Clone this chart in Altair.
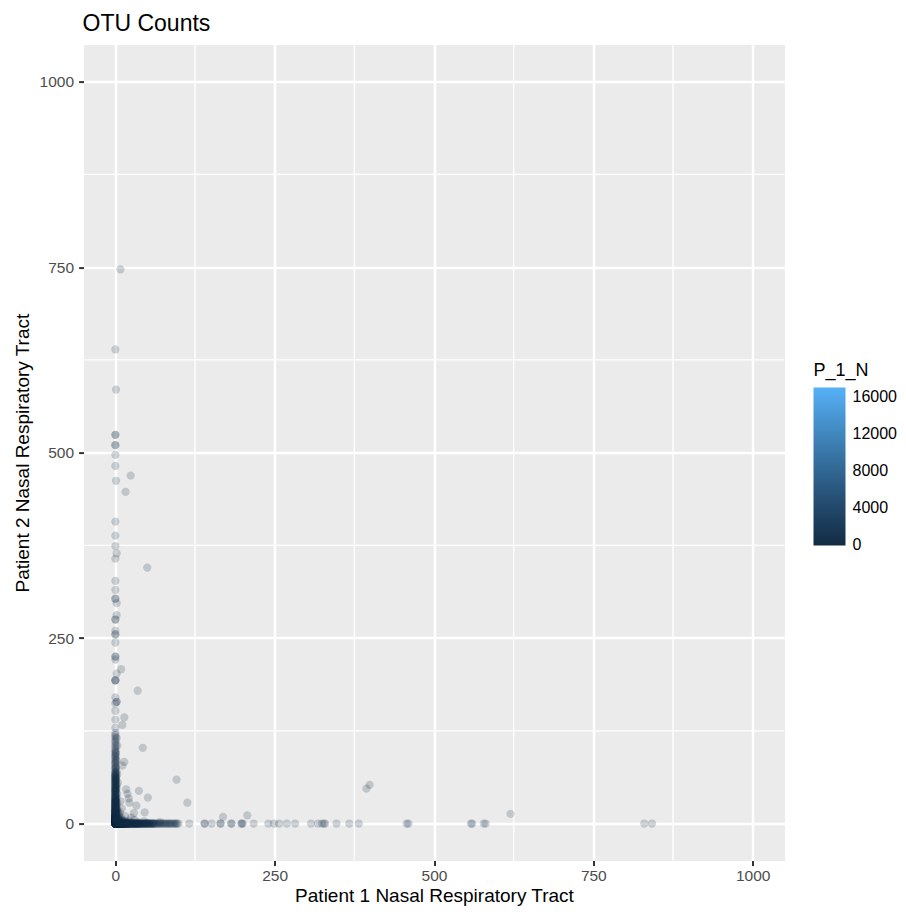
import altair as alt
import numpy as np
import pandas as pd

FONT = "Liberation Sans"

# OTUs seen only in Patient 1 (Patient 2 count is 0): Patient 1 count and number of OTUs
p1_only_count = [1, 2, 3, 4, 5, 6, 7, 8, 9, 10, 11, 12, 13, 14, 15, 16, 17, 18, 19, 20,
                 21, 22, 23, 24, 25, 26, 27, 28, 29, 30, 31, 32, 33, 34, 35, 36, 37, 38, 39, 40,
                 41, 42, 43, 44, 45, 46, 47, 48, 49, 50, 51, 52, 53, 54, 55, 56, 57, 58, 59, 60,
                 61, 62, 64, 65, 67, 68, 70, 71, 73, 75, 76, 78, 80, 81, 83, 85, 86, 88, 90, 92,
                 94, 95, 97, 99, 116, 140, 151, 165, 182, 198, 200, 217, 240, 249, 257, 269, 282,
                 307, 318, 324, 327, 329, 347, 367, 382, 457, 460, 558, 560, 578, 581, 830, 842]
p1_only_otus = [30, 22, 16, 13, 11, 9, 8, 7, 6, 6, 5, 5, 4, 4, 4, 3, 3, 3, 3, 3,
                3, 2, 2, 2, 2, 2, 2, 2, 2, 2, 2, 2, 2, 2, 2, 2, 2, 1, 2, 1,
                2, 1, 2, 1, 1, 2, 1, 1, 2, 1, 1, 1, 2, 1, 1, 1, 1, 1, 2, 1,
                1, 1, 1, 1, 1, 1, 1, 1, 1, 1, 1, 1, 1, 1, 1, 1, 1, 1, 1, 1,
                1, 1, 1, 1, 1, 2, 1, 2, 2, 2, 1, 1, 1, 1, 1, 1, 1,
                1, 1, 1, 1, 1, 1, 1, 1, 1, 1, 1, 1, 1, 1, 1, 1]

# OTUs seen only in Patient 2 (Patient 1 count is 0): Patient 2 count and number of OTUs
p2_only_count = [1, 2, 3, 4, 5, 6, 7, 8, 9, 10, 11, 12, 13, 14, 15, 16, 17, 18, 19, 20,
                 21, 22, 23, 24, 25, 26, 27, 28, 29, 30, 31, 32, 33, 34, 35, 36, 37, 38, 39, 40,
                 41, 42, 43, 44, 45, 46, 47, 48, 49, 50, 51, 52, 53, 54, 55, 56, 57, 58, 59, 60,
                 61, 62, 63, 64, 65, 66, 67, 68, 69, 70, 72, 74, 75, 77, 79, 81, 82, 84, 86, 88,
                 90, 91, 93, 95, 97, 99, 101, 104, 106, 109, 111, 114, 117, 119, 122, 129, 140,
                 152, 162, 170, 193, 221, 225, 244, 255, 260, 275, 303, 315, 327, 357, 374, 388,
                 407, 482, 497, 510, 524, 639]
p2_only_otus = [25, 18, 14, 11, 9, 8, 7, 6, 5, 5, 4, 4, 4, 3, 3, 3, 3, 3, 3, 2,
                2, 2, 2, 2, 2, 2, 2, 2, 2, 2, 2, 2, 1, 2, 1, 2, 1, 2, 1, 2,
                1, 1, 2, 1, 2, 1, 1, 2, 1, 1, 2, 1, 1, 1, 2, 1, 1, 1, 2, 1,
                1, 1, 1, 2, 1, 1, 1, 1, 1, 1, 1, 1, 1, 1, 1, 1, 1, 1, 1, 1,
                1, 1, 1, 1, 1, 1, 1, 1, 1, 1, 1, 1, 1, 1, 1, 1, 1,
                1, 1, 1, 3, 1, 2, 1, 2, 1, 2, 2, 1, 1, 1, 1, 1,
                1, 1, 1, 2, 2, 1]

# OTUs counted in both patients (or in neither): Patient 1, Patient 2, number of OTUs
shared_p1 = [0, 1, 1, 2, 2, 1, 3, 1, 2, 3, 4, 1, 1, 2, 3, 3, 4, 4, 5, 5, 6, 6, 7, 8, 1, 2,
             1, 3, 2, 4, 1, 3, 2, 5, 6, 7, 9, 10, 11, 12, 8, 5, 4, 1, 2, 3, 1, 2, 3, 6, 9,
             10, 12, 14, 15, 16, 18, 20, 22, 25, 3, 2, 4, 1, 2, 15, 10, 7, 25, 30, 8, 1, 2,
             1, 3, 1, 2, 1, 3, 2, 35, 50, 45, 70,
             1, 1, 2, 2, 2, 2, 2, 8, 24, 16, 50, 9, 35, 14, 11, 43, 14, 11, 96, 113, 17,
             37, 19, 21, 22, 51, 33, 29, 46, 169, 207, 394, 399, 620,
             1240, 1870, 2650, 4320, 7810, 16990]
shared_p2 = [0, 1, 2, 1, 2, 3, 1, 4, 3, 2, 1, 5, 6, 5, 3, 4, 2, 3, 1, 2, 1, 3, 2, 1, 8, 8,
             10, 7, 12, 9, 15, 14, 18, 6, 5, 4, 3, 2, 1, 3, 6, 10, 16, 22, 25, 20, 30, 35,
             28, 12, 8, 5, 2, 4, 1, 3, 2, 1, 4, 2, 40, 48, 55, 62, 70, 10, 20, 15, 8, 5, 30,
             45, 52, 58, 66, 75, 85, 95, 105, 115, 2, 1, 3, 2,
             585, 462, 364, 297, 281, 202, 164, 747, 469, 447, 345, 208, 179, 143, 133, 102,
             83, 78, 59, 28, 46, 44, 40, 34, 28, 35, 24, 14, 15, 9, 11, 47, 52, 13,
             3, 0, 12, 1, 0, 2]
shared_otus = [40, 8, 5, 5, 4, 3, 3, 2, 2, 2, 2, 1, 1, 1, 1, 1, 1, 1, 1, 1, 1, 1, 1, 1, 1, 1,
               1, 1, 1, 1, 1, 1, 1, 1, 1, 1, 1, 1, 1, 1, 1, 1, 1, 1, 1, 1, 1, 1, 1, 1, 1,
               1, 1, 1, 1, 1, 1, 1, 1, 1, 1, 1, 1, 1, 1, 1, 1, 1, 1, 1, 1, 1, 1,
               1, 1, 1, 1, 1, 1, 1, 1, 1, 1, 1,
               1, 1, 1, 1, 1, 1, 2, 1, 1, 1, 1, 1, 1, 1, 1, 1, 1, 1, 1, 1, 1,
               1, 1, 1, 1, 1, 1, 1, 1, 1, 1, 1, 1, 1,
               1, 1, 1, 1, 1, 1]

major_breaks = [0, 250, 500, 750, 1000]
minor_breaks = [125, 375, 625, 875]
legend_breaks = [0, 4000, 8000, 12000, 16000]

groups = pd.DataFrame({
    "P_1_N": p1_only_count + [0] * len(p2_only_count) + shared_p1,
    "P_2_N": [0] * len(p1_only_count) + p2_only_count + shared_p2,
    "otus": p1_only_otus + p2_only_otus + shared_otus,
})
# one row per OTU
otu = groups.loc[groups.index.repeat(groups["otus"])].reset_index(drop=True)

x_scale = alt.Scale(domain=[-50, 1050], nice=False, zero=False)
y_scale = alt.Scale(domain=[-50, 1050], nice=False, zero=False)
x_axis = alt.Axis(values=major_breaks, format="d", title="Patient 1 Nasal Respiratory Tract",
                  labelPadding=3, titlePadding=2)
y_axis = alt.Axis(values=major_breaks, format="d", title="Patient 2 Nasal Respiratory Tract",
                  labelPadding=5, titlePadding=7)

minor_df = pd.DataFrame({"brk": minor_breaks})
v_minor = alt.Chart(minor_df).mark_rule(color="white", strokeWidth=1.3).encode(
    x=alt.X("brk:Q", scale=x_scale, axis=x_axis)
)
h_minor = alt.Chart(minor_df).mark_rule(color="white", strokeWidth=1.3).encode(
    y=alt.Y("brk:Q", scale=y_scale, axis=y_axis)
)

points = alt.Chart(otu).mark_circle(size=68, fillOpacity=0.2, clip=True).encode(
    x=alt.X("P_1_N:Q", scale=x_scale, axis=x_axis),
    y=alt.Y("P_2_N:Q", scale=y_scale, axis=y_axis),
    color=alt.Color("P_1_N:Q",
                    scale=alt.Scale(range=["#132B43", "#56B1F7"], interpolate="lab",
                                    domainMin=-100, nice=False),
                    legend=alt.Legend(title="P_1_N", orient="none", legendX=730, legendY=317,
                                      direction="vertical", gradientLength=158,
                                      gradientThickness=32, gradientStrokeWidth=0,
                                      values=legend_breaks, format="d", labelOffset=7,
                                      labelOverlap=False,
                                      labelFont=FONT, labelFontSize=16, labelColor="black",
                                      titleFont=FONT, titleFontSize=18, titleColor="black",
                                      titleFontWeight="normal", titlePadding=8, padding=0)),
)

chart = alt.layer(v_minor, h_minor, points).properties(
    width=701,
    height=816,
    title=alt.TitleParams("OTU Counts", anchor="start", frame="group", font=FONT,
                          fontSize=23, fontWeight="normal", color="black",
                          baseline="alphabetic", offset=14, dx=-1, dy=24),
    background="white",
    padding={"left": 83.5, "top": 44.6, "right": 121.5, "bottom": 53.4},
    autosize=alt.AutoSizeParams(type="none"),
).configure_view(
    fill="#EBEBEB", stroke="transparent"
).configure_axis(
    domain=False,
    grid=True,
    gridColor="white",
    gridWidth=2.5,
    tickColor="#333333",
    tickWidth=2,
    tickSize=4.9,
    labelFont=FONT,
    labelFontSize=15.5,
    labelColor="#4D4D4D",
    titleFont=FONT,
    titleFontSize=19,
    titleColor="black",
    titleFontWeight="normal",
)

chart.save("out.html", embed_options={"renderer": "svg", "actions": False})
